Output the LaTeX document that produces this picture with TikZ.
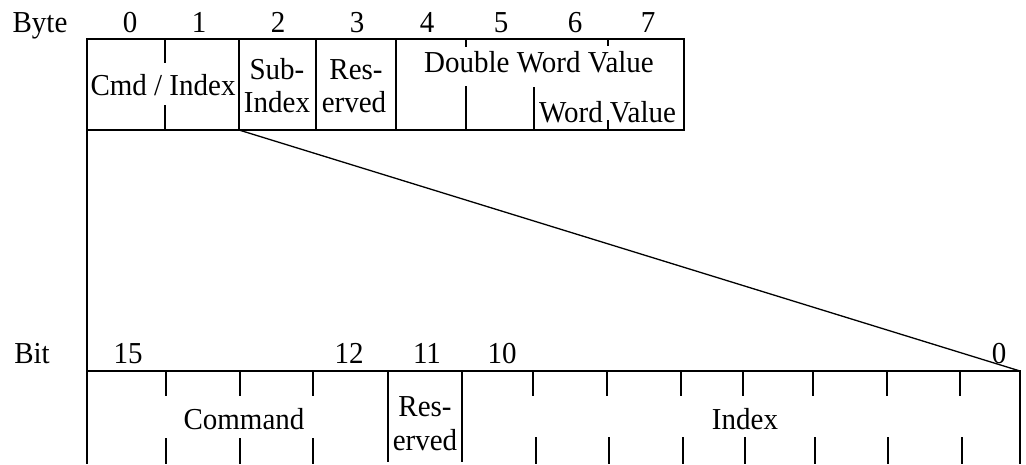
\documentclass[tikz,border=0pt]{standalone}
\usepackage{fontspec}
\setmainfont{Liberation Serif}
\tikzset{
  ln/.style={line width=1.6pt},
  tk/.style={line width=1.8pt},
  lbl/.style={inner sep=0pt, font=\fontsize{29}{31}\selectfont, anchor=base, yscale=1.05},
}
\begin{document}
\begin{tikzpicture}[x=1pt,y=-1pt]
\useasboundingbox (0,0) rectangle (1026,464);
% ---- byte frame
\coordinate (tl) at (87,39);
\coordinate (br) at (684,130);
\draw[ln] (tl) rectangle (br);
\coordinate (sub) at (239,130);
\coordinate (bl) at (87,130);
% byte separators
\draw[tk] (165,39) -- (165,63);
\draw[tk] (165,105) -- (165,130);
\draw[ln] (239,39) -- (239,130);
\draw[ln] (316,39) -- (316,130);
\draw[ln] (396,39) -- (396,130);
\draw[tk] (466,39) -- (466,47);
\draw[tk] (466,86) -- (466,130);
\draw[ln] (534,87) -- (534,130);
\draw[tk] (608,39) -- (608,46);
\draw[tk] (608,120) -- (608,130);
% byte labels
\node[lbl] (byte) at (40,32) {Byte};
\foreach \x/\n in {130/0,199/1,278/2,357/3,427/4,501/5,575/6,648/7}
  \node[lbl] (b\n) at (\x,32) {\n};
\node[lbl] (cmdidx) at (163,95) {Cmd / Index};
\node[lbl] (sub1) at (277,79) {Sub-};
\node[lbl] (sub2) at (277,112) {Index};
\node[lbl] (res1) at (356,79) {Res-};
\node[lbl] (res2) at (354,112) {erved};
\node[lbl] (dwv) at (539,72) {Double Word Value};
\node[lbl] (wd) at (571,122) {Word};
\node[lbl] (wv) at (643,122) {Value};
% ---- bit frame
\coordinate (btl) at (87,371);
\coordinate (btr) at (1020,371);
\coordinate (bbl) at (87,464);
\coordinate (bbr) at (1020,464);
\draw[line width=2pt] (bl) -- (bbl);
\draw[ln] (btl) -- (btr) -- (bbr);
\draw[line width=1.3pt] (sub) -- (btr);
% command ticks
\foreach \x in {166,240,313}{
  \draw[tk] (\x,371) -- (\x,396);
  \draw[tk] (\x,438) -- (\x,464);
}
\draw[ln] (388,371) -- (388,462);
\draw[ln] (462,371) -- (462,462);
\foreach \x/\y in {533/536,607/609,681/683,743/745,813/815,887/888,960/962}{
  \draw[tk] (\x,371) -- (\x,396);
  \draw[tk] (\y,437) -- (\y,464);
}
% bit labels
\node[lbl] (bit) at (32,363) {Bit};
\node[lbl] (n15) at (128,363) {15};
\node[lbl] (n12) at (349,363) {12};
\node[lbl] (n11) at (427,363) {11};
\node[lbl] (n10) at (502,363) {10};
\node[lbl] (n0) at (999,363) {0};
\node[lbl] (cmd) at (244,429) {Command};
\node[lbl] (r1) at (425,416) {Res-};
\node[lbl] (r2) at (425,450) {erved};
\node[lbl] (idx) at (745,429) {Index};
\end{tikzpicture}
\end{document}
